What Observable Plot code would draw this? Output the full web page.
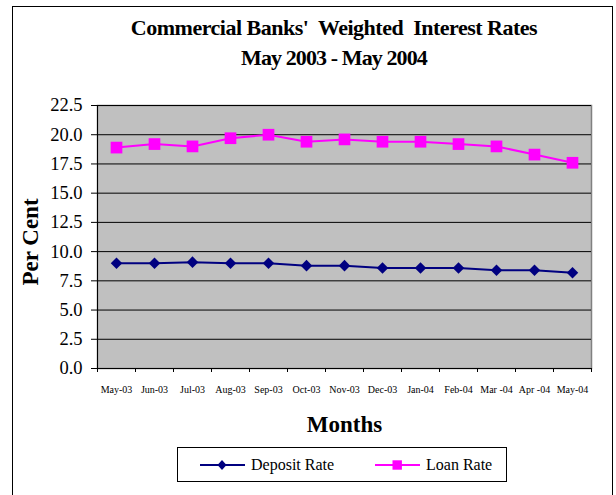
<!DOCTYPE html>
<html>
<head>
<meta charset="utf-8">
<script src="https://cdn.jsdelivr.net/npm/d3@7"></script>
<script src="https://cdn.jsdelivr.net/npm/@observablehq/plot@0.6"></script>
<style>
  html, body { margin: 0; padding: 0; background: #fff; width: 616px; height: 495px; overflow: hidden; }
  body { position: relative; font-family: "Liberation Serif", "Times New Roman", serif; }
  #frame { position: absolute; left: 12px; top: 6px; width: 601px; height: 520px; border: 1px solid #000; box-sizing: border-box; }
  #title { position: absolute; left: 59px; width: 550px; top: 12.6px; text-align: center; font-weight: bold; font-size: 22px; line-height: 30px; color: #000; }
  #title .l1 { letter-spacing: -0.5px; }
  #title .l2 { letter-spacing: -0.9px; }
  #chart { position: absolute; left: 0; top: 90px; }
  #legend { position: absolute; left: 177px; top: 447px; width: 330px; height: 35px; border: 1px solid #000; box-sizing: border-box; background: #fff; font-size: 16px; }
  .item { position: absolute; top: 0; height: 33px; display: flex; align-items: center; }
  .item svg { margin-right: 6px; }
</style>
</head>
<body>
<div id="frame"></div>
<div id="title"><span class="l1">Commercial Banks'&nbsp; Weighted&nbsp; Interest Rates</span><br><span class="l2">May 2003 - May 2004</span></div>
<div id="chart"></div>
<div id="legend"></div>
<script>
const months = ["May-03","Jun-03","Jul-03","Aug-03","Sep-03","Oct-03","Nov-03","Dec-03","Jan-04","Feb-04","Mar -04","Apr -04","May-04"];
const depositRate = [9.0, 9.0, 9.1, 9.0, 9.0, 8.8, 8.8, 8.6, 8.6, 8.6, 8.4, 8.4, 8.2];
const loanRate = [18.9, 19.2, 19.0, 19.7, 20.0, 19.4, 19.6, 19.4, 19.4, 19.2, 19.0, 18.3, 17.6];
const seriesNames = ["Deposit Rate", "Loan Rate"];
const seriesColors = ["#000080", "#ff00ff"];
const yTicks = [0, 2.5, 5, 7.5, 10, 12.5, 15, 17.5, 20, 22.5];

const data = [];
months.forEach((m, i) => {
  data.push({month: m, series: seriesNames[0], value: depositRate[i]});
  data.push({month: m, series: seriesNames[1], value: loanRate[i]});
});

const W = 616, H = 350, mL = 97, mR = 25, mT = 15, mB = 72;
const bw = (W - mL - mR) / months.length;

const chart = Plot.plot({
  width: W, height: H,
  marginLeft: mL, marginRight: mR, marginTop: mT, marginBottom: mB,
  style: {fontFamily: '"Liberation Serif", "Times New Roman", serif', background: "transparent", overflow: "visible", color: "#000"},
  x: {type: "band", domain: months, padding: 0, axis: null},
  y: {domain: [0, 22.5], axis: null},
  color: {domain: seriesNames, range: seriesColors},
  marks: [
    Plot.frame({fill: "#c0c0c0", stroke: "#808080", strokeWidth: 1.5}),
    Plot.gridY(yTicks, {stroke: "#000", strokeOpacity: 1, strokeWidth: 1}),
    Plot.frame({anchor: "left", stroke: "#000"}),
    Plot.frame({anchor: "bottom", stroke: "#000"}),
    Plot.axisY(yTicks, {tickSize: 6, tickPadding: 9, fontSize: 18.5, tickFormat: d => d.toFixed(1), label: null}),
    Plot.axisX(months, {tickSize: 4, dx: -bw / 2, tickFormat: () => "", label: null}),
    Plot.axisX([months[months.length - 1]], {tickSize: 4, dx: bw / 2, tickFormat: () => "", label: null}),
    Plot.axisX(months, {tickSize: 0, tickPadding: 17.5, fontSize: 10, label: null}),
    Plot.line(data, {x: "month", y: "value", z: "series", stroke: "series", strokeWidth: 2}),
    Plot.dot(data.filter(d => d.series === seriesNames[0]), {x: "month", y: "value", symbol: "square", rotate: 45, r: 4.6, fill: seriesColors[0], stroke: null}),
    Plot.dot(data.filter(d => d.series === seriesNames[1]), {x: "month", y: "value", symbol: "square", r: 6.6, fill: seriesColors[1], stroke: null}),
    Plot.text(["Per Cent"], {frameAnchor: "left", textAnchor: "middle", lineAnchor: "middle", dx: -67, dy: 5, rotate: -90, fontSize: 23, fontWeight: "bold", text: d => d}),
    Plot.text(["Months"], {frameAnchor: "bottom", textAnchor: "middle", lineAnchor: "middle", dy: 56.3, fontSize: 23, fontWeight: "bold", letterSpacing: -1.7, text: d => d})
  ]
});
document.getElementById("chart").appendChild(chart);

// legend
const legend = d3.select("#legend");
const legendPos = [22, 197];
seriesNames.forEach((name, i) => {
  const item = legend.append("div").attr("class", "item").style("left", legendPos[i] + "px");
  const s = item.append("svg").attr("width", 45).attr("height", 14);
  s.append("line").attr("x1", 0).attr("x2", 45).attr("y1", 7).attr("y2", 7).attr("stroke", seriesColors[i]).attr("stroke-width", 2);
  if (i === 0) {
    s.append("path").attr("d", "M22,2 L26.5,7 L22,12 L17.5,7 Z").attr("fill", seriesColors[i]);
  } else {
    s.append("rect").attr("x", 17.5).attr("y", 2.3).attr("width", 9.4).attr("height", 9.4).attr("fill", seriesColors[i]);
  }
  item.append("span").text(name);
});
</script>
</body>
</html>
